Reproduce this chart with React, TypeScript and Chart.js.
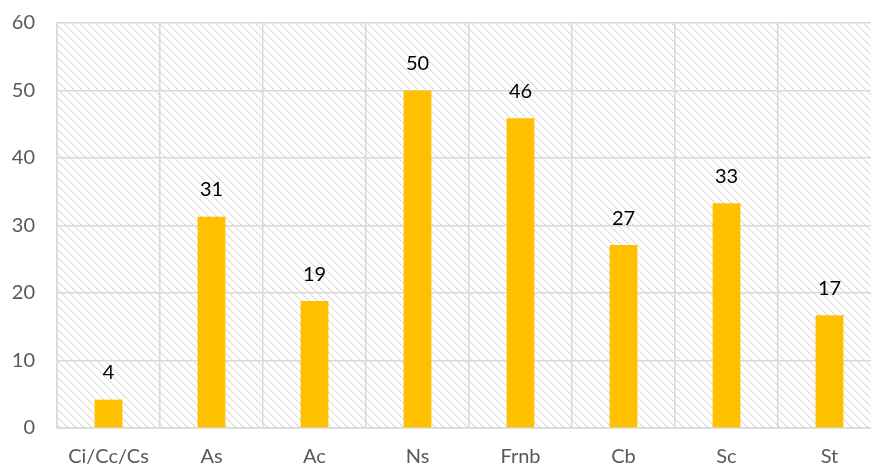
import React, { useEffect, useRef } from "react";
import { Chart, registerables } from "chart.js";

Chart.register(...registerables);

const categories = ["Ci/Cc/Cs", "As", "Ac", "Ns", "Frnb", "Cb", "Sc", "St"];
const values = [4.2, 31.3, 18.8, 50, 45.9, 27.1, 33.3, 16.7];
const yTicks = [0, 10, 20, 30, 40, 50, 60];

const FONT = "Lato, 'Open Sans', 'Liberation Sans', sans-serif";

function makePattern(ctx: CanvasRenderingContext2D) {
  const c = document.createElement("canvas");
  c.width = 8;
  c.height = 8;
  const g = c.getContext("2d")!;
  g.fillStyle = "#ffffff";
  g.fillRect(0, 0, 8, 8);
  for (let i = 0; i < 8; i++) {
    g.fillStyle = i % 2 === 0 ? "#d4d4d4" : "#e6e6e6";
    g.fillRect(i, i, 1, 1);
    g.fillStyle = "#ececec";
    g.fillRect((i + 1) % 8, i, 1, 1);
  }
  return ctx.createPattern(c, "repeat");
}

const bgPlugin = {
  id: "hatchBg",
  beforeDraw(chart: any) {
    const { ctx, chartArea } = chart;
    const p = makePattern(ctx);
    ctx.save();
    ctx.fillStyle = p;
    ctx.fillRect(chartArea.left, chartArea.top, chartArea.right - chartArea.left, chartArea.bottom - chartArea.top);
    ctx.restore();
  },
};

const labelPlugin = {
  id: "valLabels",
  afterDatasetsDraw(chart: any) {
    const { ctx } = chart;
    const meta = chart.getDatasetMeta(0);
    ctx.save();
    ctx.font = `20px ${FONT}`;
    ctx.fillStyle = "#000000";
    ctx.textAlign = "center";
    ctx.textBaseline = "middle";
    meta.data.forEach((bar: any, i: number) => {
      const v = chart.data.datasets[0].data[i];
      ctx.fillText(String(Math.round(v)), bar.x, bar.y - 27);
    });
    ctx.restore();
  },
};

export default function App() {
  const ref = useRef<HTMLCanvasElement>(null);
  useEffect(() => {
    const chart = new Chart(ref.current!, {
      type: "bar",
      data: {
        labels: categories,
        datasets: [
          {
            data: values,
            backgroundColor: "#FFC000",
            barPercentage: 0.27,
            categoryPercentage: 1,
          },
        ],
      },
      options: {
        animation: false,
        responsive: false,
        maintainAspectRatio: false,
        layout: { padding: { top: 23, right: 9, left: 0, bottom: 0 } },
        plugins: { legend: { display: false }, tooltip: { enabled: false } },
        scales: {
          x: {
            grid: { color: "#d9d9d9", lineWidth: 1.5, drawTicks: false, offset: true },
            border: { color: "#d9d9d9", width: 1.5 },
            ticks: { color: "#595959", font: { size: 20, family: FONT }, padding: 17 },
            afterFit: (s: any) => {
              s.height = 40;
              s.paddingLeft = 0;
              s.paddingRight = 0;
            },
          },
          y: {
            min: 0,
            max: 60,
            afterBuildTicks: (s: any) => {
              s.ticks = yTicks.map((v) => ({ value: v }));
            },
            grid: { color: "#d9d9d9", lineWidth: 1.5, drawTicks: false },
            border: { color: "#d9d9d9", width: 1.5 },
            ticks: { color: "#595959", font: { size: 20, family: FONT }, padding: 22 },
            afterFit: (s: any) => {
              s.width = 57;
              s.paddingTop = 0;
              s.paddingBottom = 0;
            },
          },
        },
      },
      plugins: [bgPlugin, labelPlugin],
    });
    return () => chart.destroy();
  }, []);
  return (
    <div style={{ position: "fixed", left: 0, top: 0, width: 871, height: 468, overflow: "hidden", background: "#fff" }}>
      <canvas ref={ref} width={890} height={468} style={{ width: 890, height: 468, display: "block" }} />
    </div>
  );
}
